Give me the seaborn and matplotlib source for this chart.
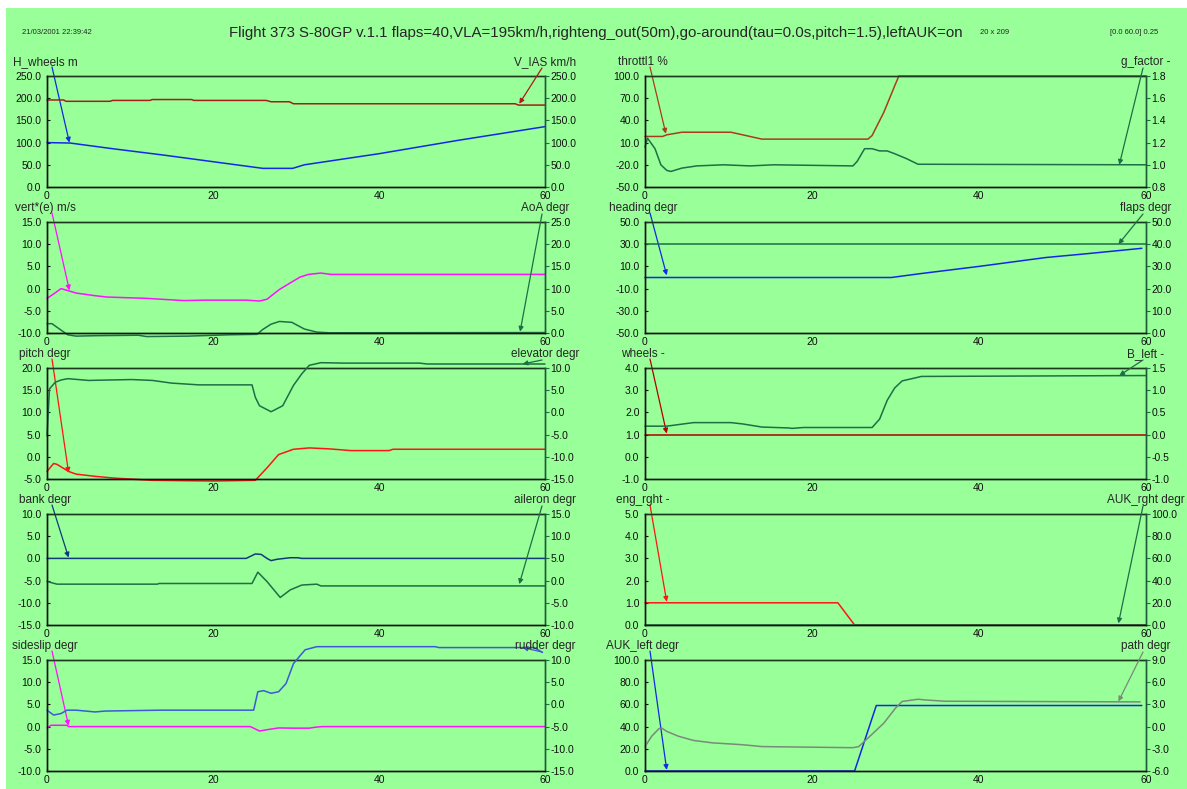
import matplotlib
matplotlib.use("Agg")
import matplotlib.pyplot as plt
import seaborn as sns
from matplotlib.patches import Rectangle
from matplotlib.ticker import FixedLocator, FormatStrFormatter

# ---------------------------------------------------------------- data
TITLE = ("Flight 373 S-80GP v.1.1 flaps=40,VLA=195km/h,righteng_out(50m),"
         "go-around(tau=0.0s,pitch=1.5),leftAUK=on")
STAMP = "21/03/2001 22:39:42"
GRID_INFO = "20 x 209"
RANGE_INFO = "[0.0 60.0] 0.25"

X_MAJOR = [0, 20, 40, 60]
X_MINOR = [10, 30, 50]

# altitude / airspeed
T_HWHEELS = [0, 2.8, 8, 14, 20, 26, 29.6, 31, 40, 49.5, 60]
H_WHEELS = [100, 99, 86, 72, 57, 42, 42, 50, 75, 105, 136]
T_VIAS = [0, 2.0, 2.3, 7.6, 7.9, 12.4, 12.7, 17.4, 17.7, 26.4, 27.0, 29.2, 29.7, 56.4, 56.8, 60]
V_IAS = [196, 196, 193, 193, 195, 195, 197, 197, 195, 195, 192, 192, 187.5, 187.5, 184.5, 184.5]

# vertical speed / angle of attack
T_VERT = [0, 0.8, 1.7, 2.6, 3.5, 5.8, 7.2, 12, 16.5, 19, 24, 25.6, 26.5, 28, 29.5, 30.5, 31.5, 33, 34.2, 60]
VERT = [-2.2, -1.2, 0.0, -0.5, -1.0, -1.6, -1.9, -2.2, -2.7, -2.6, -2.6, -2.8, -2.4, -0.2, 1.5, 2.6, 3.2, 3.5, 3.2, 3.2]
T_AOA = [0, 0.6, 1.5, 2.5, 3.5, 6, 11, 12, 17, 22, 25.3, 26, 27, 28, 29.5, 31, 32.5, 34, 60]
AOA = [2.1, 2.1, 0.9, -0.4, -0.7, -0.6, -0.5, -0.8, -0.7, -0.4, -0.3, 0.8, 2.0, 2.6, 2.4, 0.9, 0.2, 0.05, 0.1]

# pitch / elevator
T_PITCH = [0, 0.8, 1.2, 1.9, 2.6, 3.5, 5.8, 8.1, 12.7, 20, 25.1, 26.5, 27.9, 29.7, 31.6, 33.9, 36.6, 41.2, 41.7, 60]
PITCH = [-3.3, -1.5, -1.7, -2.5, -3.3, -3.9, -4.4, -4.8, -5.3, -5.45, -5.3, -2.5, 0.5, 1.7, 2.0, 1.8, 1.4, 1.4, 1.7, 1.7]
T_ELEV = [0, 0.3, 1.0, 1.7, 2.5, 5, 10.2, 12.7, 15, 18.3, 24.7, 25.1, 25.6, 27, 28.4, 29.7, 30.7, 31.6, 33, 35.7, 44.9, 45.8, 60]
ELEV = [-5.3, 5.3, 6.8, 7.3, 7.6, 7.2, 7.4, 7.2, 6.6, 6.2, 6.2, 3.4, 1.5, 0.15, 1.5, 6.1, 8.7, 10.6, 11.2, 11.1, 11.1, 10.9, 10.9]

# bank / aileron
T_BANK = [0, 24, 25.1, 25.8, 26.5, 27, 27.7, 29.3, 30.2, 30.7, 60]
BANK = [0, 0, 1.0, 0.9, 0, -0.5, -0.2, 0.15, 0.15, 0, 0]
T_AIL = [0, 1.2, 13.3, 13.5, 24.7, 25.4, 26.5, 28.1, 29.3, 30.7, 32.5, 33, 60]
AIL = [-0.2, -0.8, -0.8, -0.65, -0.65, 1.9, -0.2, -3.8, -2.1, -1.0, -0.8, -1.2, -1.2]

# sideslip / rudder
T_SLIP = [0, 0.5, 2.4, 2.6, 24.5, 25.6, 26.5, 27.9, 29.7, 31.6, 32.5, 33.2, 60]
SLIP = [-0.3, 0.3, 0.3, 0.0, 0.0, -1.0, -0.7, -0.3, -0.35, -0.35, -0.1, 0.0, 0.0]
T_RUD = [0, 0.8, 1.7, 2.4, 3.5, 5.8, 7, 13.7, 24.9, 25.4, 26.1, 27, 27.9, 28.8, 29.7, 31.1, 32.5, 46.8, 47.2, 58.7, 59.7]
RUD = [-1.3, -2.4, -2.05, -1.3, -1.3, -1.7, -1.5, -1.3, -1.3, 2.85, 3.1, 2.5, 2.85, 4.7, 9.2, 12.3, 13.0, 13.0, 12.8, 12.8, 11.7]

# throttle / load factor
T_THR = [0, 2.1, 2.6, 4.4, 10.3, 11.7, 14, 26.7, 27.2, 28.6, 29.9, 30.4, 60]
THR = [18.3, 18.3, 20.5, 24, 24, 20.5, 14.7, 14.7, 19.6, 50.9, 86.6, 100, 100]
T_G = [0, 0.3, 1.2, 1.9, 2.6, 3.1, 4.4, 6.2, 9.4, 12.6, 15.4, 24.9, 25.4, 26.3, 27.2, 28.1, 29, 29.9, 31.3, 32.7, 60]
G_FACTOR = [1.16, 1.24, 1.145, 1.0, 0.95, 0.94, 0.97, 0.99, 1.0, 0.99, 1.0, 0.99, 1.03, 1.145, 1.145, 1.125, 1.125, 1.1, 1.056, 1.005, 1.0]

# heading / flaps
T_HEAD = [0, 29.5, 33, 40, 48, 53, 59.5]
HEADING = [0, 0, 3.5, 10, 18, 21.5, 26.3]
T_FLAPS = [0, 60]
FLAPS = [40, 40]

# wheels / B_left
T_WHEELS = [0, 60]
WHEELS = [1, 1]
T_BLEFT = [0, 2.6, 5.8, 10.3, 11.7, 14, 17.2, 17.6, 19, 27.2, 28.1, 29, 29.9, 30.8, 32.2, 33.1, 60]
B_LEFT = [0.19, 0.19, 0.27, 0.27, 0.24, 0.17, 0.15, 0.14, 0.16, 0.16, 0.35, 0.77, 1.05, 1.21, 1.27, 1.31, 1.33]

# engines / AUK right
T_ENG = [0, 23.1, 25.1, 60]
ENG_RGHT = [1, 1, 0, 0]
T_AUKR = [0, 60]
AUK_RGHT = [0, 0]

# AUK left / path
T_AUKL = [0, 25.1, 27.7, 59.5]
AUK_LEFT = [0, 0, 59, 59]
T_PATH = [0, 0.8, 1.7, 2.0, 2.6, 4, 5.8, 8.1, 11.7, 14, 24.9, 25.6, 26.7, 28.6, 30, 30.8, 32.7, 33.6, 35.9, 59.3]
PATH = [-2.7, -1.3, -0.25, -0.2, -0.65, -1.3, -1.87, -2.2, -2.45, -2.7, -2.85, -2.7, -1.55, 0.47, 2.5, 3.4, 3.7, 3.6, 3.43, 3.34]

# ---------------------------------------------------------------- style
BG = "#99ff99"
DKGREEN = "#1e6e46"
C = {
    "blue": "#1428e6", "darkred": "#a81c1c", "brick": "#a83c1e", "magenta": "#ff10ff",
    "red": "#ff1414", "wred": "#b00000", "navy": "#103a7a", "rblue": "#3a5ad8",
    "gray": "#7a8a7a", "green": DKGREEN,
}

sns.set_style("white")
plt.rcParams["font.family"] = ["Liberation Sans", "DejaVu Sans"]

W, H = 1187, 789
fig = plt.figure(figsize=(W / 100, H / 100), dpi=100, facecolor="white")
fig.patches.append(Rectangle((6 / W, 0), 1, 1 - 8 / H, transform=fig.transFigure,
                             facecolor=BG, edgecolor="none", zorder=-10))

COLS = [(47, 545), (645, 1146)]
ROW_TOPS = [76, 222, 368, 514, 660]
AX_H = 111

# (col, row, left series, right series)
# series: label, t, values, color, ylim, ticks, arrow target (t, value)
PANELS = [
    (0, 0, ("H_wheels m", T_HWHEELS, H_WHEELS, C["blue"], (0, 250), [0, 50, 100, 150, 200, 250], (2.7, 100)),
           ("V_IAS km/h", T_VIAS, V_IAS, C["darkred"], (0, 250), [0, 50, 100, 150, 200, 250], (56.9, 187.5))),
    (0, 1, ("vert*(e) m/s", T_VERT, VERT, C["magenta"], (-10, 15), [-10, -5, 0, 5, 10, 15], (2.7, -0.4)),
           ("AoA degr", T_AOA, AOA, C["green"], (0, 25), [0, 5, 10, 15, 20, 25], (57.0, 0.3))),
    (0, 2, ("pitch degr", T_PITCH, PITCH, C["red"], (-5, 20), [-5, 0, 5, 10, 15, 20], (2.6, -3.6)),
           ("elevator degr", T_ELEV, ELEV, C["green"], (-15, 10), [-15, -10, -5, 0, 5, 10], (57.3, 10.9))),
    (0, 3, ("bank degr", T_BANK, BANK, C["navy"], (-15, 10), [-15, -10, -5, 0, 5, 10], (2.6, 0.2)),
           ("aileron degr", T_AIL, AIL, C["green"], (-10, 15), [-10, -5, 0, 5, 10, 15], (56.9, -0.8))),
    (0, 4, ("sideslip degr", T_SLIP, SLIP, C["magenta"], (-10, 15), [-10, -5, 0, 5, 10, 15], (2.6, 0.2)),
           ("rudder degr", T_RUD, RUD, C["rblue"], (-15, 10), [-15, -10, -5, 0, 5, 10], (57.3, 12.8))),
    (1, 0, ("throttl1 %", T_THR, THR, C["brick"], (-50, 100), [-50, -20, 10, 40, 70, 100], (2.5, 22)),
           ("g_factor -", T_G, G_FACTOR, C["green"], (0.8, 1.8), [0.8, 1.0, 1.2, 1.4, 1.6, 1.8], (56.8, 1.0))),
    (1, 1, ("heading degr", T_HEAD, HEADING, C["blue"], (-50, 50), [-50, -30, -10, 10, 30, 50], (2.6, 2)),
           ("flaps degr", T_FLAPS, FLAPS, C["green"], (0, 50), [0, 10, 20, 30, 40, 50], (56.7, 40))),
    (1, 2, ("wheels -", T_WHEELS, WHEELS, C["wred"], (-1, 4), [-1, 0, 1, 2, 3, 4], (2.6, 1.05)),
           ("B_left -", T_BLEFT, B_LEFT, C["green"], (-1, 1.5), [-1.0, -0.5, 0.0, 0.5, 1.0, 1.5], (56.8, 1.33))),
    (1, 3, ("eng_rght -", T_ENG, ENG_RGHT, C["red"], (0, 5), [0, 1, 2, 3, 4, 5], (2.6, 1.05)),
           ("AUK_rght degr", T_AUKR, AUK_RGHT, C["green"], (0, 100), [0, 20, 40, 60, 80, 100], (56.7, 1.5))),
    (1, 4, ("AUK_left degr", T_AUKL, AUK_LEFT, C["blue"], (0, 100), [0, 20, 40, 60, 80, 100], (2.6, 1)),
           ("path degr", T_PATH, PATH, C["gray"], (-6, 9), [-6, -3, 0, 3, 6, 9], (56.7, 3.4))),
]

TICK_FS = 7.5
LABEL_FS = 8.5


def draw(ax, t, v, color):
    sns.lineplot(x=t, y=v, ax=ax, color=color, linewidth=1.1, estimator=None,
                 errorbar=None, sort=False, clip_on=False)
    ax.set_xlabel("")
    ax.set_ylabel("")


def arrow(ax, target, start_px, color):
    ax.annotate("", xy=target, xycoords="data",
                xytext=(start_px[0], H - start_px[1]), textcoords="figure pixels",
                arrowprops=dict(arrowstyle="-|>", color=color, lw=0.9,
                                mutation_scale=7, shrinkA=0, shrinkB=0),
                annotation_clip=False)


for col, row, left, right in PANELS:
    x0, x1 = COLS[col]
    top = ROW_TOPS[row]
    ax = fig.add_axes([x0 / W, 1 - (top + AX_H) / H, (x1 - x0) / W, AX_H / H])
    ax.set_facecolor("none")
    ax2 = ax.twinx()
    ax2.set_facecolor("none")

    # left series
    lab, t, v, color, ylim, ticks, tgt = left
    draw(ax, t, v, color)
    ax.set_ylim(*ylim)
    ax.yaxis.set_major_locator(FixedLocator(ticks))
    ax.yaxis.set_major_formatter(FormatStrFormatter("%.1f"))
    fig.text((x0 - 2) / W, 1 - (top - 14) / H, lab, ha="center", va="center", fontsize=LABEL_FS)
    arrow(ax, tgt, (x0 + 5, top - 9), color)

    # right series
    lab, t, v, color, ylim, ticks, tgt = right
    draw(ax2, t, v, color)
    ax2.set_ylim(*ylim)
    ax2.yaxis.set_major_locator(FixedLocator(ticks))
    ax2.yaxis.set_major_formatter(FormatStrFormatter("%.1f"))
    fig.text(x1 / W, 1 - (top - 14) / H, lab, ha="center", va="center", fontsize=LABEL_FS)
    arrow(ax2, tgt, (x1 - 3, top - 8), color)

    for a in (ax, ax2):
        a.set_xlim(0, 60)
        a.xaxis.set_major_locator(FixedLocator(X_MAJOR))
        a.xaxis.set_minor_locator(FixedLocator(X_MINOR))
    ax.tick_params(axis="x", which="both", direction="in", length=3, width=0.8,
                   labelsize=TICK_FS, pad=3, colors="#101010")
    ax.tick_params(axis="y", direction="in", length=2.5, width=0.8,
                   labelsize=TICK_FS, pad=4, colors="#101010")
    ax2.tick_params(axis="y", direction="out", length=3, width=0.8,
                    labelsize=TICK_FS, pad=1, colors="#101010")
    ax2.tick_params(axis="y", colors=DKGREEN, labelcolor="#101010")

    for a in (ax, ax2):
        for s in a.spines.values():
            s.set_linewidth(1.0)
        a.spines["left"].set_color("#101010")
        a.spines["bottom"].set_color("#101010")
        a.spines["top"].set_color("#1e3a1e")
        a.spines["right"].set_color("#1e5a3a")
        a.spines["top"].set_zorder(0.5)

# header texts
fig.text(596 / W, 1 - 33 / H, TITLE, ha="center", va="center", fontsize=10.8)
fig.text(22 / W, 1 - 33 / H, STAMP, ha="left", va="center", fontsize=5.5)
fig.text(980 / W, 1 - 32 / H, GRID_INFO, ha="left", va="center", fontsize=5.5)
fig.text(1110 / W, 1 - 33 / H, RANGE_INFO, ha="left", va="center", fontsize=5.5)

fig.savefig("out.png", dpi=100, facecolor=fig.get_facecolor())
